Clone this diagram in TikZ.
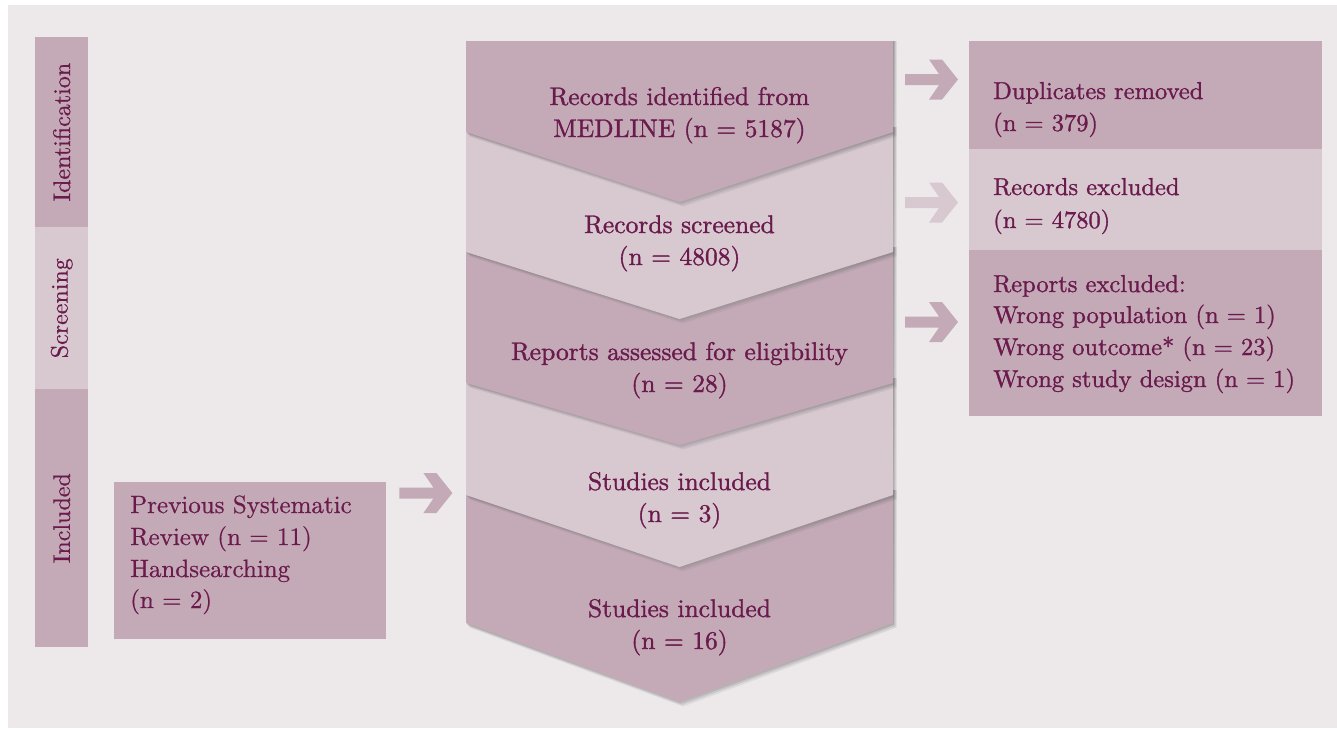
\documentclass[tikz,border=0pt]{standalone}
\usepackage{fontspec}
\newfontfamily\heavyrm{lmroman10-regular.otf}[FakeBold=1.2]
\newfontfamily\midrm{lmroman10-regular.otf}[FakeBold=0.6]
\usetikzlibrary{calc}

\definecolor{panel}{HTML}{EDE9EA}
\definecolor{mauveD}{HTML}{C4AAB7}
\definecolor{mauveL}{HTML}{D8C8D0}
\definecolor{ink}{HTML}{6A1A4C}
\definecolor{shade}{HTML}{8E5A78}

\tikzset{
  lbl/.style={text=ink, inner sep=0pt, font=\heavyrm\fontsize{25.5}{32}\selectfont},
  boxlbl/.style={text=ink, inner sep=0pt, font=\heavyrm\fontsize{24.5}{32}\selectfont},
  lbllight/.style={text=ink, inner sep=0pt, font=\midrm\fontsize{25}{32}\selectfont},
  sidelbl/.style={text=ink, inner sep=0pt, rotate=90, font=\midrm\fontsize{24}{28}\selectfont},
  panelbox/.style={rectangle, inner sep=0pt, anchor=north west, draw=none},
  pics/fatarrow/.style={code={
    % block arrow, origin at its tip
    \fill[#1] (-53,-5.5) -- (-19,-5.5) -- (-29,-20) -- (-16,-20) -- (0,0)
      -- (-16,20) -- (-29,20) -- (-19,5.5) -- (-53,5.5) -- cycle;
  }}
}

% chevron: colour, top y, side y, tip y (with soft shadow beneath)
\newcommand\chevron[4]{%
  \foreach \s/\o in {4.5/0.07,3/0.10,1.5/0.15}{%
    \fill[shade,opacity=\o] (466+\s*0.8,#2) -- (893+\s*0.8,#2) -- (893+\s*0.8,#3+\s)
      -- (679.5+\s*0.8,#4+\s) -- (466+\s*0.8,#3+\s) -- cycle;}
  \fill[#1] (466,#2) -- (893,#2) -- (893,#3) -- (679.5,#4) -- (466,#3) -- cycle;
}

\begin{document}
\begin{tikzpicture}[x=1pt,y=-1pt]
\useasboundingbox (0,0) rectangle (1337,729);
\fill[white] (0,0) rectangle (1337,729);
\fill[panel] (8,5) rectangle (1337,728);

% phase column
\node[panelbox, fill=mauveD, minimum width=53pt, minimum height=190pt] (sidId) at (35,37) {};
\node[panelbox, fill=mauveL, minimum width=53pt, minimum height=162pt] (sidScr) at (35,227) {};
\node[panelbox, fill=mauveD, minimum width=53pt, minimum height=258pt] (sidInc) at (35,389) {};
\node[sidelbl] (tId) at (sidId.center) {Identification};
\node[sidelbl] (tScr) at (sidScr.center) {Screening};
\node[sidelbl] (tInc) at (sidInc.center) {Included};

% central flow, drawn from the bottom up so each chevron overlaps the next
\chevron{mauveD}{490}{623}{702}
\chevron{mauveL}{378}{495}{567}
\chevron{mauveD}{247}{383}{445}
\chevron{mauveL}{127}{252}{319}
\chevron{mauveD}{41}{132}{202}

\node[lbl, anchor=base] (c1a) at (679.5,105) {Records identified from};
\node[lbl, anchor=base] (c1b) at (679.5,137) {MEDLINE (n = 5187)};
\node[lbl, anchor=base] (c2a) at (679.5,233) {Records screened};
\node[lbl, anchor=base] (c2b) at (679.5,265) {(n = 4808)};
\node[lbl, anchor=base] (c3a) at (679.5,360) {Reports assessed for eligibility};
\node[lbl, anchor=base] (c3b) at (679.5,392) {(n = 28)};
\node[lbl, anchor=base] (c4a) at (679.5,490) {Studies included};
\node[lbl, anchor=base] (c4b) at (679.5,522) {(n = 3)};
\node[lbl, anchor=base] (c5a) at (679.5,617) {Studies included};
\node[lbl, anchor=base] (c5b) at (679.5,649) {(n = 16)};

% exclusion boxes
\node[panelbox, fill=mauveD, minimum width=353pt, minimum height=108pt] (dup) at (969,41) {};
\node[panelbox, fill=mauveL, minimum width=353pt, minimum height=101pt] (excl) at (969,149) {};
\node[panelbox, fill=mauveD, minimum width=353pt, minimum height=166pt] (rep) at (969,250) {};

\node[boxlbl, anchor=base west] (d1) at (993,99) {Duplicates removed};
\node[boxlbl, anchor=base west] (d2) at (993,131) {(n = 379)};
\node[boxlbl, anchor=base west] (e1) at (993,195) {Records excluded};
\node[boxlbl, anchor=base west] (e2) at (993,228) {(n = 4780)};
\node[boxlbl, anchor=base west] (r1) at (993,292) {Reports excluded:};
\node[boxlbl, anchor=base west] (r2) at (993,323) {Wrong population (n = 1)};
\node[boxlbl, anchor=base west] (r3) at (993,355) {Wrong outcome* (n = 23)};
\node[boxlbl, anchor=base west] (r4) at (993,387) {Wrong study design (n = 1)};

% other sources
\node[panelbox, fill=mauveD, minimum width=272pt, minimum height=157pt] (prev) at (114,482) {};
\node[lbllight, anchor=base west] (p1) at (130,513) {Previous Systematic};
\node[lbllight, anchor=base west] (p2) at (130,545) {Review (n = 11)};
\node[lbllight, anchor=base west] (p3) at (130,577) {Handsearching};
\node[lbllight, anchor=base west] (p4) at (130,608) {(n = 2)};

% block arrows
\pic at ([xshift=-11pt]dup.west |- 0,79.5) {fatarrow=mauveD};
\pic at ([xshift=-11pt]excl.west |- 0,202.5) {fatarrow=mauveL};
\pic at ([xshift=-11pt]rep.west |- 0,322) {fatarrow=mauveD};
\pic at ([xshift=66pt]prev.east |- 0,493) {fatarrow=mauveD};
\end{tikzpicture}
\end{document}
